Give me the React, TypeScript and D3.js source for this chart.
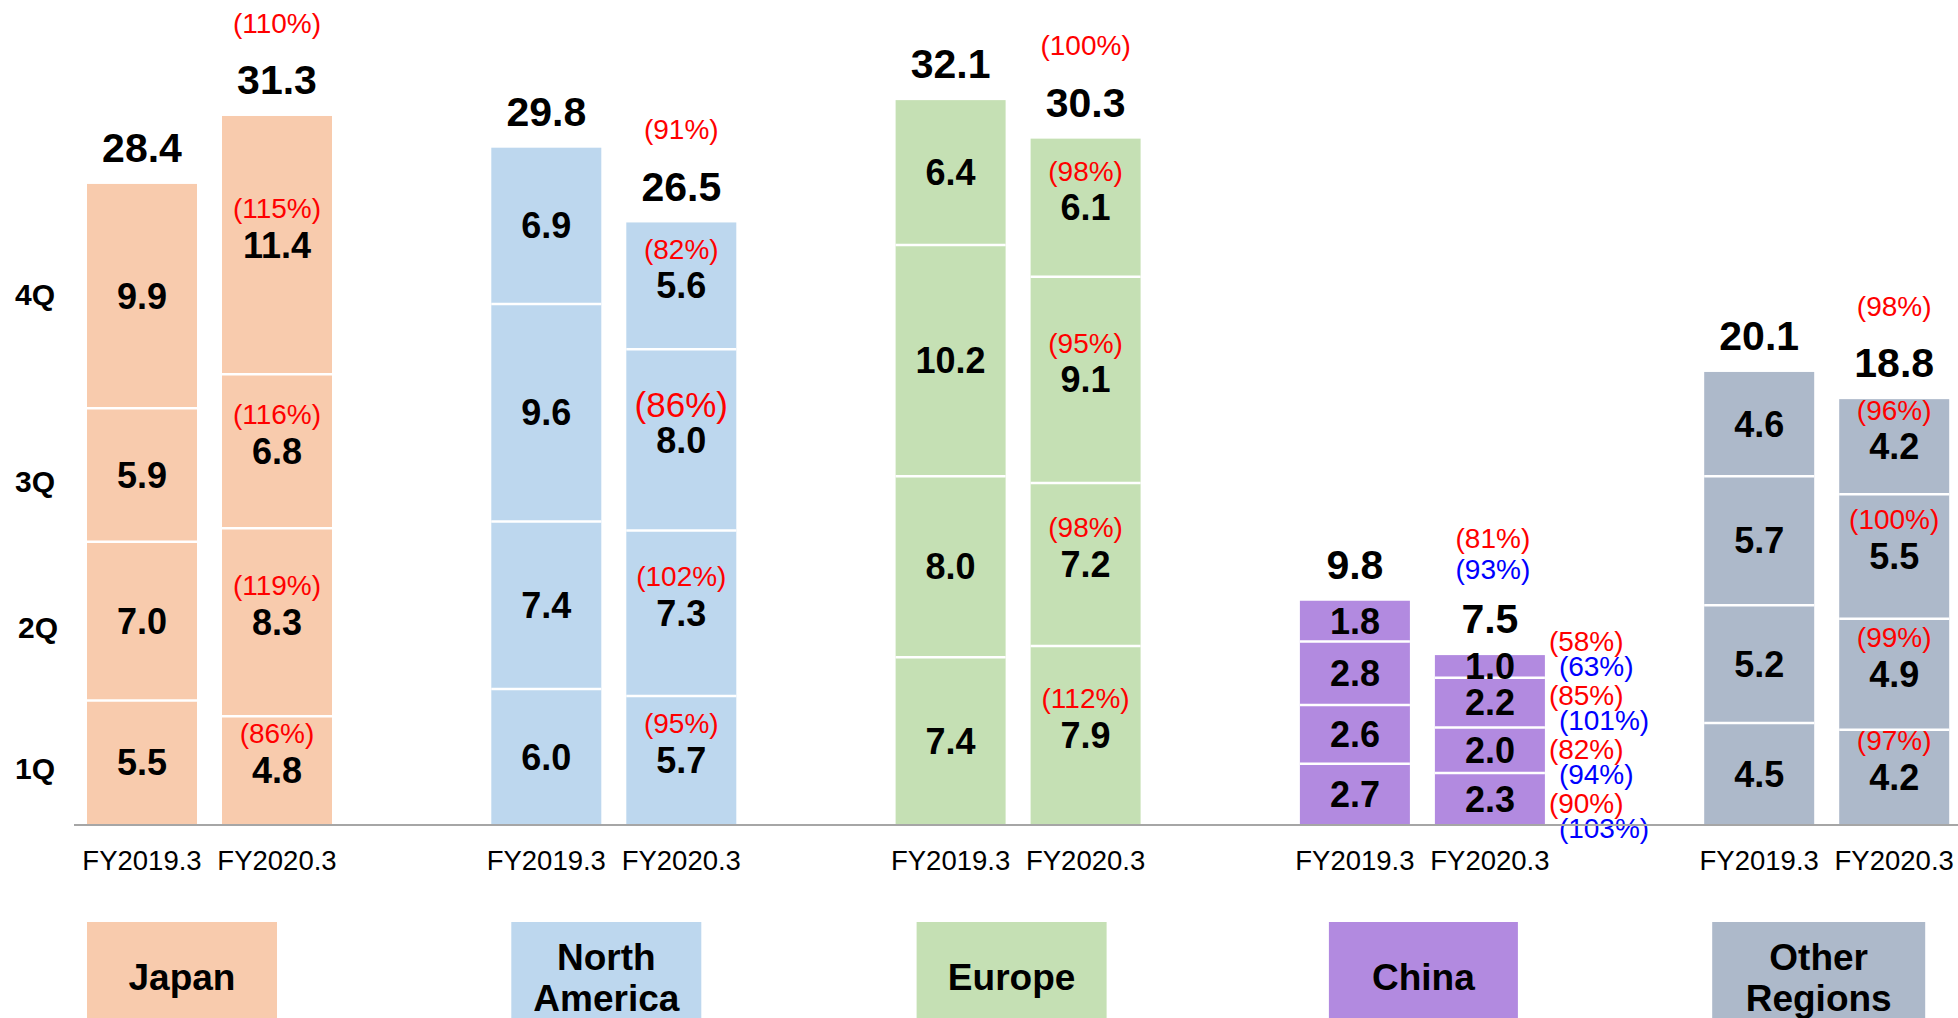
import React, { useEffect, useRef } from 'react';
import * as d3 from "d3";

// Data (billions, quarterly)
const regions = ["Japan", "North America", "Europe", "China", "Other Regions"];
const regionLabelLines = [["Japan"], ["North", "America"], ["Europe"], ["China"], ["Other", "Regions"]];
const years = ["FY2019.3", "FY2020.3"];
const quarters = ["1Q", "2Q", "3Q", "4Q"];

const fy2019Values = [
    [5.5, 7.0, 5.9, 9.9],
    [6.0, 7.4, 9.6, 6.9],
    [7.4, 8.0, 10.2, 6.4],
    [2.7, 2.6, 2.8, 1.8],
    [4.5, 5.2, 5.7, 4.6],
];
const fy2020Values = [
    [4.8, 8.3, 6.8, 11.4],
    [5.7, 7.3, 8.0, 5.6],
    [7.9, 7.2, 9.1, 6.1],
    [2.3, 2.0, 2.2, 1.0],
    [4.2, 4.9, 5.5, 4.2],
];
const fy2019Totals = [28.4, 29.8, 32.1, 9.8, 20.1];
const fy2020Totals = [31.3, 26.5, 30.3, 7.5, 18.8];

// year-on-year ratios (red)
const yoyQuarter = [
    [86, 119, 116, 115],
    [95, 102, 86, 82],
    [112, 98, 95, 98],
    [90, 82, 85, 58],
    [97, 99, 100, 96],
];
const yoyTotal = [110, 91, 100, 81, 98];
// China local currency ratios (blue)
const chinaLocalQuarter = [103, 94, 101, 63];
const chinaLocalTotal = 93;

const colors = ["#F8CBAD", "#BDD7EE", "#C5E0B4", "#B28AE0", "#ADB9CA"];

// layout of the region name boxes below the chart
const boxOffset = [0, 20, 21, 29, 8];
const boxWidth = [190, 190, 190, 189, 213];

const FONT = "'Liberation Sans', Arial, sans-serif";

const createChart = (el: SVGSVGElement) => {
    const svg = d3.select(el);
    svg.selectAll("*").remove();

    //Setting up scales
    const y = d3.scaleLinear().domain([0, 36.42]).range([825, 0]);
    const x0 = d3.scaleBand().domain(regions).range([87, 87 + 404.3 * regions.length]);
    const x1 = d3.scaleBand().domain(years).range([0, 245]).paddingInner(25 / 135);
    const bw = x1.bandwidth();

    //Building the stacked rows
    const rows: any[] = [];
    regions.forEach((r, i) => {
        [fy2019Values[i], fy2020Values[i]].forEach((vals, j) => {
            const row: any = { region: r, ri: i, year: years[j], yi: j };
            quarters.forEach((q, k) => { row[q] = vals[k]; });
            rows.push(row);
        });
    });
    const stacked = d3.stack().keys(quarters)(rows);

    const g = svg.append("g").style("font-family", FONT);

    //Bars
    stacked.forEach((layer, k) => {
        layer.forEach((d: any) => {
            const row = d.data;
            const bx = (x0(row.region) as number) + (x1(row.year) as number);
            g.append("rect")
                .attr("x", bx)
                .attr("y", y(d[1]))
                .attr("width", bw)
                .attr("height", y(d[0]) - y(d[1]))
                .attr("fill", colors[row.ri]);
            if (k > 0) {
                g.append("line")
                    .attr("x1", bx).attr("x2", bx + bw)
                    .attr("y1", y(d[0])).attr("y2", y(d[0]))
                    .attr("stroke", "#fff").attr("stroke-width", 2.5);
            }
            const cy = (y(d[0]) + y(d[1])) / 2;
            g.append("text")
                .attr("x", bx + bw / 2).attr("y", cy).attr("dy", "0.35em")
                .attr("text-anchor", "middle")
                .style("font-size", "36px").style("font-weight", "bold")
                .text(d3.format(".1f")(row[quarters[k]]));

            if (row.yi === 1 && row.region !== "China") {
                const big = row.region === "North America" && quarters[k] === "3Q";
                g.append("text")
                    .attr("x", bx + bw / 2).attr("y", cy - (big ? 35 : 37)).attr("dy", "0.35em")
                    .attr("text-anchor", "middle")
                    .attr("fill", "#FF0000")
                    .style("font-size", big ? "35px" : "28px")
                    .text(`(${yoyQuarter[row.ri][k]}%)`);
            }
        });
    });

    //China FY2020 ratios to the right of the bar, spaced up from the baseline
    const chinaRight = (x0("China") as number) + (x1("FY2020.3") as number) + bw;
    quarters.forEach((q, k) => {
        const py = y(0) - 22 - k * 54;
        g.append("text")
            .attr("x", chinaRight + 4).attr("y", py).attr("dy", "0.35em")
            .attr("fill", "#FF0000").style("font-size", "28px")
            .text(`(${yoyQuarter[3][k]}%)`);
        g.append("text")
            .attr("x", chinaRight + 14).attr("y", py + 25).attr("dy", "0.35em")
            .attr("fill", "#0000FF").style("font-size", "28px")
            .text(`(${chinaLocalQuarter[k]}%)`);
    });

    //Totals above bars
    regions.forEach((r, i) => {
        [fy2019Totals[i], fy2020Totals[i]].forEach((tot, j) => {
            const vals = j === 0 ? fy2019Values[i] : fy2020Values[i];
            const top = y(d3.sum(vals));
            const cx = (x0(r) as number) + (x1(years[j]) as number) + bw / 2;
            const ty = top - 36;
            g.append("text")
                .attr("x", cx).attr("y", ty).attr("dy", "0.35em")
                .attr("text-anchor", "middle")
                .style("font-size", "41px").style("font-weight", "bold")
                .text(d3.format(".1f")(tot));
            if (j === 1) {
                if (r === "China") {
                    g.append("text")
                        .attr("x", cx + 3).attr("y", ty - 81).attr("dy", "0.35em")
                        .attr("text-anchor", "middle").attr("fill", "#FF0000")
                        .style("font-size", "28px")
                        .text(`(${yoyTotal[i]}%)`);
                    g.append("text")
                        .attr("x", cx + 3).attr("y", ty - 50).attr("dy", "0.35em")
                        .attr("text-anchor", "middle").attr("fill", "#0000FF")
                        .style("font-size", "28px")
                        .text(`(${chinaLocalTotal}%)`);
                } else {
                    g.append("text")
                        .attr("x", cx).attr("y", ty - 57).attr("dy", "0.35em")
                        .attr("text-anchor", "middle").attr("fill", "#FF0000")
                        .style("font-size", "28px")
                        .text(`(${yoyTotal[i]}%)`);
                }
            }
        });
    });

    //Baseline
    g.append("line")
        .attr("x1", 74).attr("x2", 1958)
        .attr("y1", y(0)).attr("y2", y(0))
        .attr("stroke", "#A6A6A6").attr("stroke-width", 2);

    //Year labels
    regions.forEach((r) => {
        years.forEach((yr) => {
            g.append("text")
                .attr("x", (x0(r) as number) + (x1(yr) as number) + bw / 2)
                .attr("y", y(0) + 35).attr("dy", "0.35em")
                .attr("text-anchor", "middle")
                .style("font-size", "27.5px")
                .text(yr);
        });
    });

    //Quarter labels on the left, following Japan FY2019 segments
    let cum = 0;
    quarters.forEach((q, k) => {
        const v = fy2019Values[0][k];
        const cy = (y(cum) + y(cum + v)) / 2;
        cum += v;
        g.append("text")
            .attr("x", k === 1 ? 38 : 35).attr("y", cy + (k === 3 ? -2 : 6)).attr("dy", "0.35em")
            .attr("text-anchor", "middle")
            .style("font-size", "30px").style("font-weight", "bold")
            .text(q);
    });

    //Region name boxes
    regions.forEach((r, i) => {
        const bx = (x0(r) as number) + boxOffset[i];
        g.append("rect")
            .attr("x", bx).attr("y", 922)
            .attr("width", boxWidth[i]).attr("height", 120)
            .attr("fill", colors[i]);
        const lines = regionLabelLines[i];
        lines.forEach((ln, li) => {
            const ly = lines.length === 1 ? 977 : 957 + li * 41;
            g.append("text")
                .attr("x", bx + boxWidth[i] / 2).attr("y", ly).attr("dy", "0.35em")
                .attr("text-anchor", "middle")
                .style("font-size", "37px").style("font-weight", "bold")
                .text(ln);
        });
    });
};

const App = () => {
    const ref = useRef<SVGSVGElement>(null);

    useEffect(() => {
        if (ref.current) createChart(ref.current);
    }, []);

    return (
        <svg ref={ref} width={1958} height={1018}
            style={{ position: "absolute", left: 0, top: 0, background: "#fff" }} />
    );
};

export default App;
